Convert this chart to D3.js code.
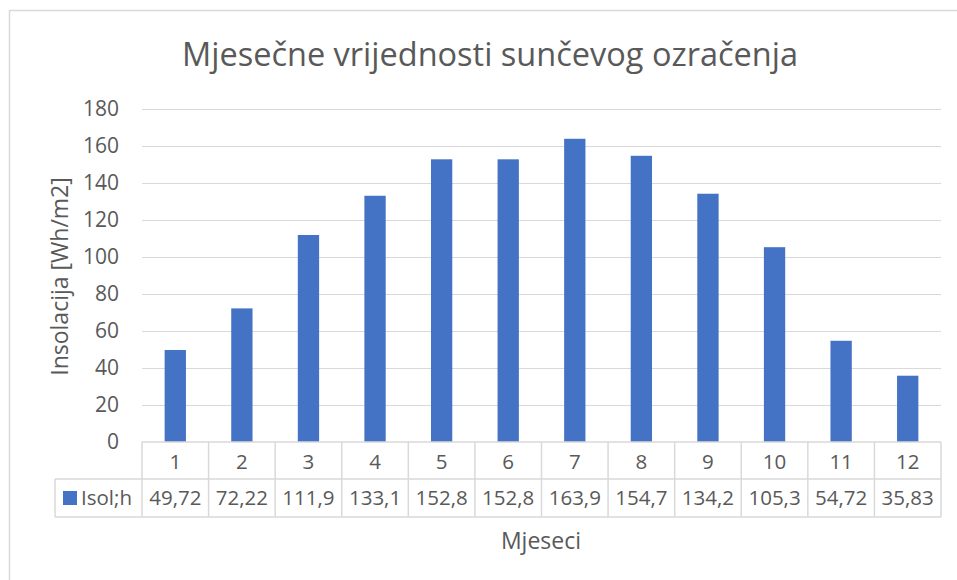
<!DOCTYPE html>
<html>
<head>
<meta charset="utf-8">
<script src="https://cdn.jsdelivr.net/npm/d3@7"></script>
<style>
  body { margin: 0; background: #fff; }
  text { font-family: 'Open Sans', sans-serif; fill: #595959; }
</style>
</head>
<body>
<script>
// chart data
const months = ['1', '2', '3', '4', '5', '6', '7', '8', '9', '10', '11', '12']
const values = [49.72, 72.22, 111.9, 133.1, 152.8, 152.8, 163.9, 154.7, 134.2, 105.3, 54.72, 35.83]
const valueLabels = ['49,72', '72,22', '111,9', '133,1', '152,8', '152,8', '163,9', '154,7', '134,2', '105,3', '54,72', '35,83']
const yTicks = [0, 20, 40, 60, 80, 100, 120, 140, 160, 180]
const seriesName = 'Isol;h'

const W = 957, H = 580
const plotL = 142, plotR = 941, plotT = 109, plotB = 442
const rowH = [37, 38]
const legendX = 55
const blue = '#4472c4', grid = '#d9d9d9'

const svg = d3.select('body').append('svg')
  .attr('width', W).attr('height', H)

// chart frame
svg.append('rect')
  .attr('x', 9.5).attr('y', 10.5).attr('width', W + 20).attr('height', H + 20)
  .attr('fill', '#fff').attr('stroke', '#d9d9d9').attr('stroke-width', 1.5)

const x = d3.scaleBand().domain(months).range([plotL, plotR]).paddingInner(0.68).paddingOuter(0.34)
const xCol = d3.scaleBand().domain(months).range([plotL, plotR])
const y = d3.scaleLinear().domain([0, 180]).range([plotB, plotT])

// gridlines
svg.append('g').selectAll('line').data(yTicks.filter(d => d > 0)).join('line')
  .attr('x1', plotL).attr('x2', plotR)
  .attr('y1', d => Math.round(y(d)) + 0.5).attr('y2', d => Math.round(y(d)) + 0.5)
  .attr('stroke', grid).attr('stroke-width', 1.2)

// y tick labels
svg.append('g').selectAll('text').data(yTicks).join('text')
  .attr('x', 119).attr('y', d => y(d)).attr('dy', '0.35em')
  .attr('text-anchor', 'end').style('font-size', '21px')
  .text(d => d)

// bars
svg.append('g').selectAll('rect').data(values).join('rect')
  .attr('x', (d, i) => x(months[i])).attr('width', x.bandwidth())
  .attr('y', d => y(d)).attr('height', d => y(0) - y(d))
  .attr('fill', blue)

// data table
const t = svg.append('g')
const r1 = plotB, r2 = plotB + rowH[0], r3 = r2 + rowH[1]
const lineStyle = s => s.attr('stroke', grid).attr('stroke-width', 1.5)
t.append('line').attr('x1', plotL).attr('x2', plotR).attr('y1', r1).attr('y2', r1).call(lineStyle)
t.append('line').attr('x1', legendX).attr('x2', plotR).attr('y1', r2).attr('y2', r2).call(lineStyle)
t.append('line').attr('x1', legendX).attr('x2', plotR).attr('y1', r3).attr('y2', r3).call(lineStyle)
t.append('line').attr('x1', legendX).attr('x2', legendX).attr('y1', r2).attr('y2', r3).call(lineStyle)
t.selectAll('line.v').data(months.concat(['end'])).join('line').attr('class', 'v')
  .attr('x1', d => d === 'end' ? plotR : xCol(d)).attr('x2', d => d === 'end' ? plotR : xCol(d))
  .attr('y1', r1).attr('y2', r3).call(lineStyle)

t.selectAll('text.m').data(months).join('text').attr('class', 'm')
  .attr('x', d => xCol(d) + xCol.bandwidth() / 2).attr('y', (r1 + r2) / 2 + 1).attr('dy', '0.35em')
  .attr('text-anchor', 'middle').style('font-size', '20.5px').text(d => d)
t.selectAll('text.v').data(valueLabels).join('text').attr('class', 'v')
  .attr('x', (d, i) => xCol(months[i]) + xCol.bandwidth() / 2).attr('y', (r2 + r3) / 2).attr('dy', '0.35em')
  .attr('text-anchor', 'middle').style('font-size', '20.5px').text(d => d)

// legend key
t.append('rect').attr('x', 63).attr('y', (r2 + r3) / 2 - 7).attr('width', 14).attr('height', 14).attr('fill', blue)
t.append('text').attr('x', 81).attr('y', (r2 + r3) / 2).attr('dy', '0.35em')
  .style('font-size', '20.5px').text(seriesName)

// titles
svg.append('text').attr('x', 490).attr('y', 55).attr('dy', '0.35em')
  .attr('text-anchor', 'middle').style('font-size', '32.5px')
  .text('Mjesečne vrijednosti sunčevog ozračenja')
svg.append('text').attr('transform', `translate(60, ${(plotT + plotB) / 2 + 1}) rotate(-90)`)
  .attr('dy', '0.35em').attr('text-anchor', 'middle').style('font-size', '23px')
  .text('Insolacija [Wh/m2]')
svg.append('text').attr('x', 541).attr('y', 541).attr('dy', '0.35em')
  .attr('text-anchor', 'middle').style('font-size', '23px').text('Mjeseci')
</script>
</body>
</html>
